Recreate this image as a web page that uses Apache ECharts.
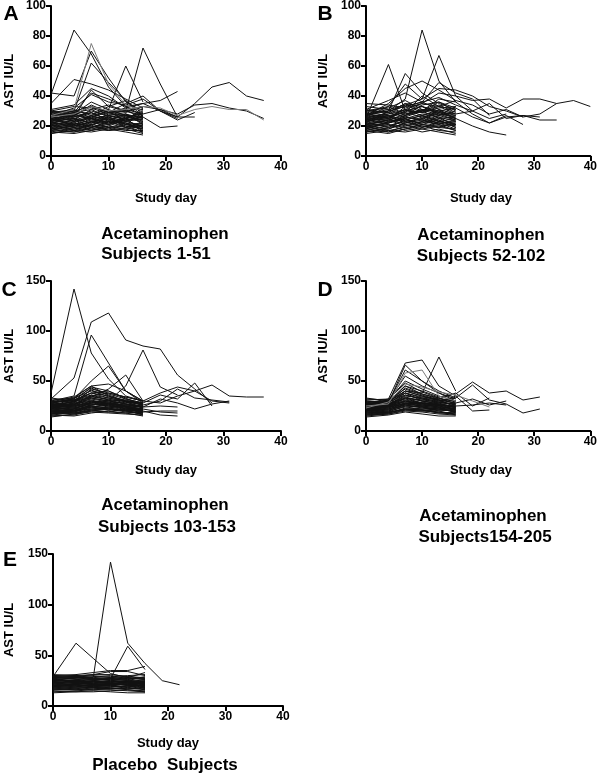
<!DOCTYPE html>
<html><head><meta charset="utf-8">
<script src="https://cdn.jsdelivr.net/npm/echarts@6/dist/echarts.min.js"></script>
<style>html,body{margin:0;padding:0;background:#fff}#c{width:600px;height:775px}</style>
</head><body><div id="c"></div>
<script>
// Study days at which AST was measured (every 3 days after day 4)
const days = [0,4,7,10,13,16,19,22,25,28,31,34,37,40];
const xTicks = [0,10,20,30,40];
const yTicksAB = [0,20,40,60,80,100];
const yTicksCDE = [0,50,100,150];

// Panel A: Acetaminophen subjects 1-51 (AST IU/L per study day)
const panelA = [
[22,24,20,26,21,18],[18,20,23,19,22,17],[25,22,27,24,28,23],[20,18,21,23,19,21],
[16,19,17,20,18,15],[28,26,30,27,25,29],[23,27,25,22,26,24],[19,21,24,26,23,20],
[26,30,28,31,27,26],[21,17,19,22,24,19],[24,25,22,28,30,27],[17,16,18,17,19,16],
[27,23,26,29,32,31],[15,18,20,18,16,14],[22,26,29,24,21,22],[30,28,25,27,29,33],
[18,22,19,21,25,23],[25,20,23,25,22,20],[20,24,27,30,26,28],[23,19,21,19,20,18],
[29,31,27,33,30,26],[16,15,17,19,17,17],[21,23,25,21,23,25],[26,24,31,26,28,21],
[19,17,16,18,21,19],[24,28,24,23,25,30],[17,20,22,25,20,16],[22,21,18,20,24,26],
[28,25,29,24,27,24],[20,22,20,17,18,20],[25,27,33,29,31,28],[18,16,19,23,22,18],
[23,25,22,26,19,22],[27,29,26,22,24,32],[21,19,23,21,26,15],[15,17,21,24,28,25],
[30,33,32,28,27,22],[24,21,26,30,23,27],
[41,84,68,46,33,27],[42,40,70,52,36,30],[29,30,62,49,37,26],[35,51,48,44,38,32],
[25,28,36,31,60,36],[24,27,34,29,30,72,48,26],[26,29,42,38,33,35,37,43],
[30,26,44,33,37,28,31,26,26],[27,32,41,36,34,38,30,24,29],
[28,30,33,29,35,40,30,26,35,46,49,40,37],[24,29,31,34,30,33,31,28,34,35,32,30,25],
[22,20,25,27,24,26,19,20],[31,34,45,40,32,35,30,25]
];
const panelAGray = [
[27,31,75,48,34,30],[26,28,33,30,31,33,32,27,31,33,31,31,24]
];

// Panel B: Acetaminophen subjects 52-102
const panelB = [
[20,22,25,21,24,19],[17,15,18,20,17,16],[24,27,22,26,29,25],[30,33,28,31,27,30],
[22,19,24,27,23,22],[19,21,17,19,22,18],[27,25,30,33,28,26],[15,17,19,16,18,15],
[25,29,26,24,31,28],[21,24,28,30,25,21],[33,31,34,29,32,33],[18,16,20,23,21,24],
[26,22,25,28,26,20],[23,26,31,27,30,32],[16,19,21,18,16,14],[29,27,24,22,26,23],
[20,18,22,25,28,27],[24,21,19,21,20,17],[35,34,32,35,33,31],[18,23,26,24,22,20],
[27,30,33,36,31,25],[21,20,23,20,19,22],[25,24,27,30,34,29],[19,17,16,18,20,21],
[31,29,35,33,30,27],[23,25,21,23,27,24],[17,20,24,27,24,19],[28,26,29,26,23,21],
[22,24,20,22,25,26],[26,28,31,29,27,33],[20,16,18,21,19,18],[24,26,23,25,22,23],
[30,32,37,31,29,28],[16,18,22,24,21,17],[28,31,27,34,36,30],[21,23,25,19,23,25],
[25,61,30,33,28,24],[28,30,38,84,50,36],[24,28,34,38,67,40,30],[22,30,55,42,35,31],
[27,35,45,50,44,37],[31,37,42,36,49,42,38,27],[26,33,48,38,45,44,40,33,30,26],
[23,26,31,35,42,40,37,38,32,38,38,35,37,33],[28,25,30,29,33,37,34,28,31,26,28,35],
[20,22,26,30,36,32,26,22,26,27,24,24],[25,27,29,40,33,28,30,35,25,27,26],
[18,22,27,31,30,25,20,16,14],[21,24,33,36,39,34,30,25,28],[30,29,35,30,38,36,28,22,27,21]
];

// Panel C: Acetaminophen subjects 103-153
const panelC = [
[22,23,27,25,23,20],[18,17,21,23,20,17],[25,27,30,28,26,24],[29,31,36,33,30,27],
[20,19,24,21,22,19],[16,15,18,20,18,15],[27,25,33,30,27,25],[23,26,28,31,24,22],
[14,17,19,18,17,16],[26,29,38,35,29,26],[21,20,22,24,21,23],[31,33,40,37,32,28],
[19,22,25,23,25,21],[24,21,26,27,22,18],[17,19,23,22,19,17],[28,26,34,32,28,29],
[22,24,30,26,27,24],[20,18,20,19,23,20],[33,30,35,38,34,30],[25,28,32,29,25,22],
[18,20,26,28,24,19],[27,24,29,25,23,21],[15,16,20,22,20,18],[23,25,27,24,26,25],
[30,29,41,34,31,27],[21,23,28,30,27,23],[26,27,31,27,24,20],[19,18,22,21,22,22],
[24,26,36,31,30,26],[17,21,24,26,21,16],[28,31,38,40,33,25],[22,20,25,23,20,21],
[20,22,29,27,25,24],[25,23,26,28,29,23],[29,32,43,36,30,28],[16,18,21,19,18,19],
[38,142,78,52,35,30],[32,53,109,118,91,85,82,56,42,28],[30,35,96,68,40,28],
[28,32,50,65,40,30],[26,29,34,42,56,30],[25,30,33,30,45,81,44,36],
[27,33,45,47,40,30,38,44,40,30,28],[24,30,44,40,32,28,36,32,48,25],
[22,28,42,38,34,30,28,35,40,46,35,34,34],[29,34,45,35,30,26,30,42,33,31,29],
[26,31,38,33,29,24,32,28,22,27,30],[20,22,28,26,24,20,16,15],
[23,25,30,28,25,22,19,18],[18,20,24,22,21,19,20,20],[25,27,35,31,27,24,25,24]
];

// Panel D: Acetaminophen subjects 154-205
const panelD = [
[22,24,27,25,23,21],[18,19,22,21,19,17],[26,25,31,28,26,24],[30,29,36,32,28,27],
[20,22,26,23,21,20],[16,17,20,19,17,16],[28,27,34,30,27,25],[24,26,30,28,25,22],
[14,16,19,17,15,15],[25,28,38,33,29,26],[21,20,24,22,23,21],[32,31,42,36,31,28],
[19,21,25,24,22,19],[23,22,28,26,24,18],[17,18,22,21,18,17],[27,26,33,31,29,27],
[22,25,29,27,26,24],[20,19,21,20,21,20],[33,30,38,34,32,30],[26,27,33,30,27,23],
[18,20,27,25,23,19],[28,24,30,26,24,22],[15,17,21,20,19,18],[24,23,28,25,26,25],
[29,28,45,37,33,29],[21,22,27,29,26,22],[25,26,32,28,25,21],[19,18,23,22,21,23],
[23,25,36,32,30,26],[17,19,25,24,20,16],[27,29,40,35,31,24],[22,21,26,24,22,20],
[20,23,30,27,24,24],[26,24,28,27,28,23],[31,32,48,39,33,27],[16,18,22,21,18,19],
[28,32,68,71,45,35],[26,30,40,38,74,40],[30,28,66,50,38,30],[24,29,61,50,40,33],
[27,31,50,42,35,30],[22,30,55,45,38,32],[29,30,45,40,34,37,49,38,40,31,34],
[23,26,40,35,30,33,46,31,27,18,22],[26,28,43,37,32,38,25,33],[21,25,38,30,28,35,20,21],
[24,27,35,33,31,28,32,26,30],[20,24,33,28,26,25,26,28,26]
];
const panelDGray = [
[25,27,58,61,35,30],[23,29,47,44,39,36,30,24]
];

// Panel E: Placebo subjects
const panelE = [
[22,21,20,21,22,20],[18,17,16,17,18,16],[25,24,23,24,25,23],[28,27,26,27,28,26],
[20,19,21,20,19,18],[15,14,14,15,16,14],[26,25,24,23,25,25],[23,24,22,22,23,21],
[13,14,15,14,13,13],[24,26,27,25,24,24],[21,20,19,19,20,21],[30,29,27,28,29,28],
[19,20,21,22,21,19],[27,23,21,22,24,18],[17,16,17,18,17,17],[29,28,29,30,27,27],
[22,23,25,24,23,24],[19,18,18,17,19,20],[31,30,28,29,30,31],[25,26,24,25,26,22],
[16,17,19,18,16,15],[24,22,22,21,22,23],[14,15,16,16,15,14],[23,21,20,22,21,25],
[27,28,26,26,26,29],[20,21,23,22,24,22],[26,24,25,27,25,20],[18,19,20,21,18,21],
[23,25,26,26,28,26],[17,18,18,19,20,16],[28,29,30,28,27,24],[21,22,21,20,22,19],
[20,22,24,23,20,23],[26,25,22,24,24,21],[29,30,31,31,29,27],[16,16,18,17,17,18],
[24,23,25,23,21,22],[19,21,19,20,23,17],
[25,28,28,142,62,42,25,21],[29,62,47,32,28,33],[26,28,27,27,59,36],
[30,31,33,35,35,39],[28,29,31,34,34,30]
];

const FONT = '"Liberation Sans", Arial, Helvetica, sans-serif';
const panels = [
  {rows: panelA, gray: panelAGray, grid:{left:51, top:6, width:230, height:150}, ymax:100, yint:20},
  {rows: panelB, gray: [], grid:{left:366, top:6, width:225, height:150}, ymax:100, yint:20},
  {rows: panelC, gray: [], grid:{left:51, top:281, width:230, height:150}, ymax:150, yint:50},
  {rows: panelD, gray: panelDGray, grid:{left:366, top:281, width:225, height:150}, ymax:150, yint:50},
  {rows: panelE, gray: [], grid:{left:53, top:554, width:230, height:152}, ymax:150, yint:50}
];

const grids = [], xAxes = [], yAxes = [], series = [];
const axisCommon = {
  axisLine:{show:true, onZero:false, lineStyle:{color:'#000', width:2}},
  axisTick:{show:true, length:5, lineStyle:{color:'#000', width:2}},
  axisLabel:{color:'#000', fontWeight:'bold', fontSize:12, fontFamily:FONT, margin:5},
  splitLine:{show:false}
};
panels.forEach((p, i) => {
  grids.push(Object.assign({containLabel:false}, p.grid));
  xAxes.push(Object.assign({gridIndex:i, type:'value', min:0, max:40, interval:10}, axisCommon));
  yAxes.push(Object.assign({gridIndex:i, type:'value', min:0, max:p.ymax, interval:p.yint}, axisCommon));
  const add = (rows, color) => rows.forEach(r => series.push({
    type:'line', xAxisIndex:i, yAxisIndex:i, symbol:'none', silent:true, animation:false,
    lineStyle:{color:color, width:1},
    data: r.map((v, k) => [days[k], v])
  }));
  add(p.rows, '#111111');
  add(p.gray, '#7a7a7a');
});

function txt(x, y, text, size, rot) {
  return {type:'text', x:x, y:y, rotation: rot || 0, z:10,
    style:{text:text, font:'bold ' + size + 'px ' + FONT, fill:'#000',
      align:'center', verticalAlign:'middle', textAlign:'center', textVerticalAlign:'middle'}};
}
const graphics = [
  txt(11,14,'A',21), txt(325,14,'B',21), txt(9,290,'C',21), txt(325,290,'D',21), txt(10,560,'E',21),
  txt(9,81,'AST IU/L',13,Math.PI/2), txt(323,81,'AST IU/L',13,Math.PI/2),
  txt(9,356,'AST IU/L',13,Math.PI/2), txt(323,356,'AST IU/L',13,Math.PI/2),
  txt(9,630,'AST IU/L',13,Math.PI/2),
  txt(166,198,'Study day',13), txt(481,198,'Study day',13),
  txt(166,470,'Study day',13), txt(481,470,'Study day',13),
  txt(168,743,'Study day',13),
  txt(165,234,'Acetaminophen',17), txt(156,254,'Subjects 1-51',17),
  txt(481,235,'Acetaminophen',17), txt(481,256,'Subjects 52-102',17),
  txt(165,505,'Acetaminophen',17), txt(167,527,'Subjects 103-153',17),
  txt(483,516,'Acetaminophen',17), txt(485,537,'Subjects154-205',17),
  txt(165,765,'Placebo  Subjects',17)
];

const chart = echarts.init(document.getElementById('c'), null, {renderer:'canvas'});
chart.setOption({
  animation:false, backgroundColor:'#fff',
  grid: grids, xAxis: xAxes, yAxis: yAxes, series: series, graphic: graphics
});
</script></body></html>
